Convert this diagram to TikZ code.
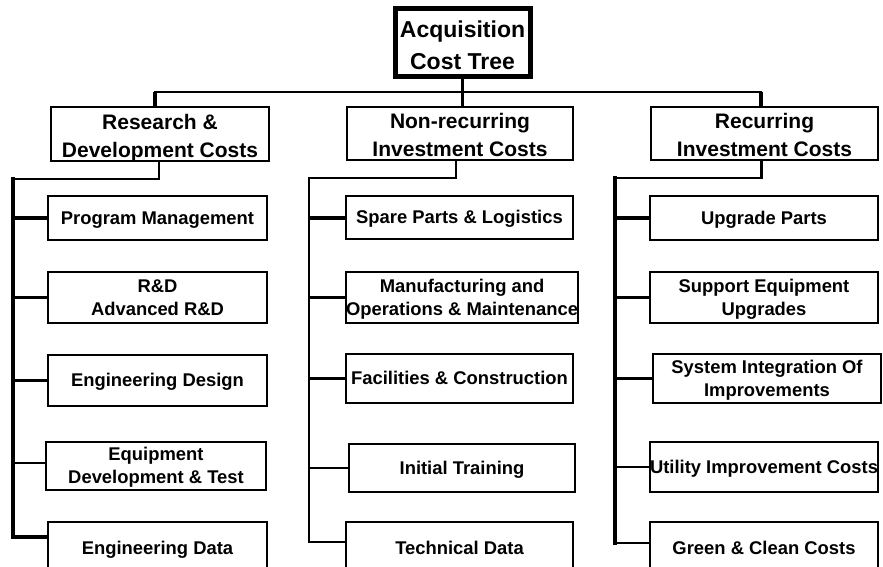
\documentclass[tikz,border=0pt]{standalone}
\usepackage{fontspec}
\setmainfont{Liberation Sans}
\newcommand{\one}[1]{\raisebox{0pt}[\fontcharht\font`H][0pt]{#1}}
\newcommand{\two}[3][0pt]{\raisebox{0pt}[\dimexpr\fontcharht\font`H+\baselineskip+#1\relax][0pt]{\begin{tabular}[b]{@{}c@{}}#2\\#3\end{tabular}}}
\begin{document}
\begin{tikzpicture}[x=1pt,y=-1pt,
  box/.style={draw=black,line width=2.5pt,fill=white,inner sep=0pt,outer sep=0pt,anchor=north west,align=center},
  titlebox/.style={box,line width=5pt,font=\fontsize{23}{32}\selectfont\bfseries},
  headbox/.style={box,font=\fontsize{21}{28}\selectfont\bfseries},
  childbox/.style={box,font=\fontsize{18.4}{23}\selectfont\bfseries},
  thinline/.style={line width=2.3pt,line cap=rect},
  dropline/.style={line width=3.3pt},
  thickline/.style={line width=4pt,line cap=rect}]
\useasboundingbox (0,0) rectangle (883,566);
\clip (0,0) rectangle (883,566);
\newcommand{\bx}[7]{\node[#1,minimum width={#4-#3},minimum height={#6-#5}] (#2) at (#3,#5) {#7};}
% title
\bx{titlebox}{T}{395}{530}{8}{76}{\two[8pt]{Acquisition}{Cost Tree}}
% headers
\bx{headbox}{H1}{51}{269}{107}{161}{\two[4pt]{Research \&}{Development Costs}}
\bx{headbox}{H2}{347}{573}{107}{160}{\two[4pt]{Non-recurring}{Investment Costs}}
\bx{headbox}{H3}{651}{878}{107}{160}{\two[4pt]{Recurring}{Investment Costs}}
% column 1
\bx{childbox}{A1}{48}{267}{196}{240}{\one{Program Management}}
\bx{childbox}{A2}{48}{267}{272}{323}{\two{R\&D}{Advanced R\&D}}
\bx{childbox}{A3}{48}{267}{355}{406}{\one{Engineering Design}}
\bx{childbox}{A4}{46}{266}{442}{490}{\two{Equipment}{Development \& Test}}
\bx{childbox}{A5}{48}{267}{522}{574}{\one{Engineering Data}}
% column 2
\bx{childbox}{B1}{346}{573}{196}{239}{\one{Spare Parts \& Logistics}}
\bx{childbox}{B2}{346}{573}{272}{323}{\two{Manufacturing and}{Operations \& Maintenance}}
\bx{childbox}{B3}{346}{573}{354}{403}{\one{Facilities \& Construction}}
\bx{childbox}{B4}{349}{575}{444}{492}{\one{Initial Training}}
\bx{childbox}{B5}{346}{573}{522}{574}{\one{Technical Data}}
% column 3
\bx{childbox}{C1}{650}{878}{196}{240}{\one{Upgrade Parts}}
\bx{childbox}{C2}{650}{878}{272}{323}{\two{Support Equipment}{Upgrades}}
\bx{childbox}{C3}{653}{881}{354}{403}{\two{System Integration Of}{Improvements}}
\bx{childbox}{C4}{650}{878}{442}{492}{\one{Utility Improvement Costs}}
\bx{childbox}{C5}{650}{878}{522}{574}{\one{Green \& Clean Costs}}
% top bus
\coordinate (busL) at (155,92);
\coordinate (busR) at (761,92);
\draw[thinline] (busL) -- (busR);
\draw[dropline] (busL) -- (busL |- H1.north);
\draw[dropline] (busR) -- (busR |- H3.north);
\draw[thinline,line cap=butt] (T.south) -- (T.south |- busL);
\draw[dropline] (T.south |- busL) -- (T.south |- H2.north);
% trunks
\coordinate (t1) at (13,179);
\coordinate (t2) at (309,178);
\coordinate (t3) at (615,178);
\draw[thinline] ([xshift=-1pt]H1.south) |- (t1);
\draw[thinline] ([xshift=-4pt]H2.south) |- (t2);
\draw[thinline] ([xshift=-3pt]H3.south) |- (t3);
\coordinate (A5c) at ([yshift=-15pt]A5.north west);
\coordinate (B5c) at ([yshift=-20pt]B5.north west);
\coordinate (C5c) at ([yshift=-21pt]C5.north west);
\draw[thickline] (t1) -- (t1 |- A5c);
\draw[thinline] (t2) -- (t2 |- B5c);
\draw[thickline] (t3) -- (t3 |- C5c);
% branches column 1
\draw[thickline,line cap=butt] (t1 |- A1.west) -- (A1.west);
\draw[thinline,line cap=butt] (t1 |- A2.west) -- (A2.west);
\draw[thinline,line cap=butt] (t1 |- A3.west) -- (A3.west);
\draw[thinline,line cap=butt] ([yshift=3pt]t1 |- A4.west) -- ([yshift=3pt]A4.west);
\draw[thickline,line cap=butt] (t1 |- A5c) -- (A5c);
% branches column 2
\draw[thickline,line cap=butt] (t2 |- B1.west) -- (B1.west);
\draw[thinline,line cap=butt] (t2 |- B2.west) -- (B2.west);
\draw[thinline,line cap=butt] (t2 |- B3.west) -- (B3.west);
\draw[thinline,line cap=butt] (t2 |- B4.west) -- (B4.west);
\draw[thinline,line cap=butt] (t2 |- B5c) -- (B5c);
% branches column 3
\draw[thickline,line cap=butt] (t3 |- C1.west) -- (C1.west);
\draw[thinline,line cap=butt] (t3 |- C2.west) -- (C2.west);
\draw[thinline,line cap=butt] (t3 |- C3.west) -- (C3.west);
\draw[thinline,line cap=butt] (t3 |- C4.west) -- (C4.west);
\draw[thinline,line cap=butt] (t3 |- C5c) -- (C5c);
\end{tikzpicture}
\end{document}
